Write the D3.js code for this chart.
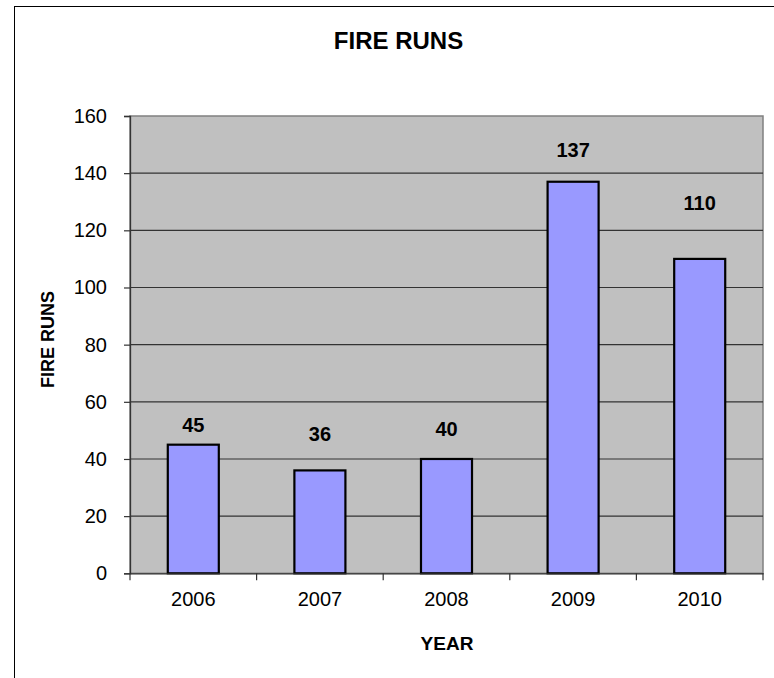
<!DOCTYPE html>
<html><head><meta charset="utf-8">
<script src="https://cdn.jsdelivr.net/npm/d3@7"></script>
<style>
html,body{margin:0;padding:0;background:#fff;}
svg{display:block;font-family:"Liberation Sans",Arial,sans-serif;}
</style></head>
<body>
<svg id="c" width="774" height="678"></svg>
<script>
const years = ["2006","2007","2008","2009","2010"];
const fireRuns = [45, 36, 40, 137, 110];
const labelAnchor = [49.6, 46.4, 48.0, 145.6, 127.1];
const yTicks = [0, 20, 40, 60, 80, 100, 120, 140, 160];

const svg = d3.select("#c");
// outer chart border (extends past viewport)
svg.append("rect").attr("x",14.5).attr("y",6.5).attr("width",800).attr("height",700)
  .attr("fill","#fff").attr("stroke","#000").attr("stroke-width",1);

const L=130, R=763, T=116, B=573.3;
const x = d3.scaleBand().domain(years).range([L,R]).padding(0);
const y = d3.scaleLinear().domain([0,160]).range([B,T]);

// plot area
svg.append("rect").attr("x",L).attr("y",T).attr("width",R-L).attr("height",B-T)
  .attr("fill","#C0C0C0").attr("stroke","#808080").attr("stroke-width",1.5);

// gridlines
svg.append("g").selectAll("line").data(yTicks.filter(d=>d>0 && d<160)).join("line")
  .attr("x1",L).attr("x2",R).attr("y1",d=>y(d)).attr("y2",d=>y(d))
  .attr("stroke","#333").attr("stroke-width",1.2);

// bars
const bw = x.bandwidth()*0.403;
svg.append("g").selectAll("rect").data(fireRuns).join("rect")
  .attr("x",(d,i)=>x(years[i])+x.bandwidth()/2-bw/2)
  .attr("y",d=>y(d))
  .attr("width",bw)
  .attr("height",d=>B-y(d))
  .attr("fill","#9999FF").attr("stroke","#000").attr("stroke-width",2.2);

// y axis
const yAxis = d3.axisLeft(y).tickValues(yTicks).tickSize(6).tickPadding(17);
const gy = svg.append("g").attr("transform",`translate(${L},0)`).call(yAxis);
gy.select(".domain").attr("stroke","#333").attr("stroke-width",1.3);
gy.selectAll(".tick line").attr("stroke","#333").attr("stroke-width",1.2);
gy.selectAll(".tick text").attr("font-size",20).attr("fill","#000")
  .attr("font-family","Liberation Sans, Arial, sans-serif");

// x axis
const xAxis = d3.axisBottom(x).tickSize(0).tickPadding(19);
const gx = svg.append("g").attr("transform",`translate(0,${B})`).call(xAxis);
gx.select(".domain").attr("stroke","#333").attr("stroke-width",1.3);
gx.selectAll(".tick text").attr("font-size",20).attr("fill","#000")
  .attr("font-family","Liberation Sans, Arial, sans-serif");
// boundary ticks between categories
const bounds = years.map(d=>x(d)).concat([R]);
svg.append("g").selectAll("line").data(bounds).join("line")
  .attr("x1",d=>d).attr("x2",d=>d).attr("y1",B).attr("y2",B+7)
  .attr("stroke","#333").attr("stroke-width",1.2);

// value labels
svg.append("g").selectAll("text").data(fireRuns).join("text")
  .attr("x",(d,i)=>x(years[i])+x.bandwidth()/2)
  .attr("y",(d,i)=>y(labelAnchor[i]))
  .attr("text-anchor","middle").attr("font-size",20).attr("font-weight","bold")
  .text(d=>d);

// titles
svg.append("text").attr("x",398.5).attr("y",49).attr("text-anchor","middle")
  .attr("font-size",24).attr("font-weight","bold").text("FIRE RUNS");
svg.append("text").attr("x",447).attr("y",650).attr("text-anchor","middle")
  .attr("font-size",19).attr("font-weight","bold").text("YEAR");
svg.append("text").attr("transform","translate(53.5,339.5) rotate(-90)")
  .attr("text-anchor","middle").attr("font-size",18).attr("font-weight","bold").text("FIRE RUNS");
</script>
</body></html>
